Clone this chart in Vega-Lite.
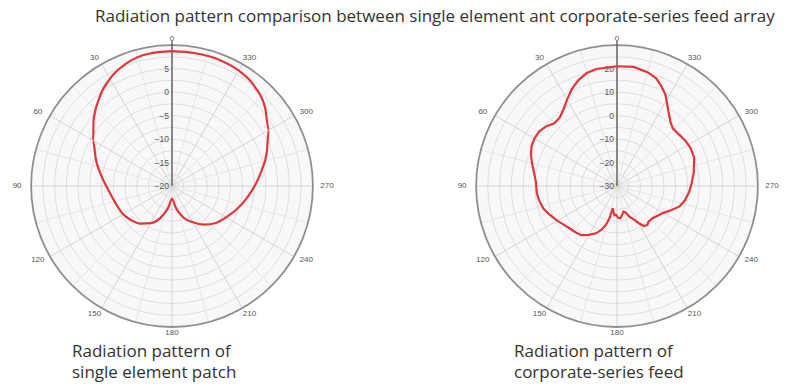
{
  "$schema": "https://vega.github.io/schema/vega-lite/v6.json",
  "padding": {"left": 3, "top": 7, "right": 0, "bottom": 10},
  "background": "white",
  "title": {"text": "Radiation pattern comparison between single element ant corporate-series feed array", "anchor": "start", "dx": 92, "offset": 5.5, "font": "Open Sans", "fontSize": 17, "fontWeight": "normal", "color": "#333333"},
  "config": {"view": {"stroke": null}},
  "bounds": "flush",
  "spacing": 107,
  "datasets": {
    "rings": [{"r": 0.0833}, {"r": 0.1667}, {"r": 0.25}, {"r": 0.3333}, {"r": 0.4167}, {"r": 0.5}, {"r": 0.5833}, {"r": 0.6667}, {"r": 0.75}, {"r": 0.8333}, {"r": 0.9167}],
    "spokes": [{"a": 0}, {"a": 15}, {"a": 30}, {"a": 45}, {"a": 60}, {"a": 75}, {"a": 90}, {"a": 105}, {"a": 120}, {"a": 135}, {"a": 150}, {"a": 165}, {"a": 180}, {"a": 195}, {"a": 210}, {"a": 225}, {"a": 240}, {"a": 255}, {"a": 270}, {"a": 285}, {"a": 300}, {"a": 315}, {"a": 330}, {"a": 345}],
    "angles": [{"a": 0, "t": "0"}, {"a": 30, "t": "30"}, {"a": 60, "t": "60"}, {"a": 90, "t": "90"}, {"a": 120, "t": "120"}, {"a": 150, "t": "150"}, {"a": 180, "t": "180"}, {"a": 210, "t": "210"}, {"a": 240, "t": "240"}, {"a": 270, "t": "270"}, {"a": 300, "t": "300"}, {"a": 330, "t": "330"}],
    "ticksL": [{"v": 5}, {"v": 0}, {"v": -5}, {"v": -10}, {"v": -15}, {"v": -20}],
    "ticksR": [{"v": 20}, {"v": 10}, {"v": 0}, {"v": -10}, {"v": -20}, {"v": -30}],
    "single": [
      {"a": 0, "g": 8.7}, {"a": 10, "g": 8.6}, {"a": 20, "g": 7.9}, {"a": 30, "g": 6.4}, {"a": 40, "g": 4.2}, {"a": 50, "g": 1.8}, {"a": 60, "g": -0.6}, {"a": 70, "g": -2.7}, {"a": 80, "g": -4.5}, {"a": 90, "g": -6.0}, {"a": 100, "g": -7.0}, {"a": 110, "g": -7.6}, {"a": 120, "g": -8.0}, {"a": 130, "g": -8.7}, {"a": 140, "g": -9.6}, {"a": 150, "g": -10.9}, {"a": 160, "g": -12.8}, {"a": 170, "g": -15.3}, {"a": 180, "g": -17.3}, {"a": 190, "g": -15.3}, {"a": 200, "g": -12.9}, {"a": 210, "g": -11.1}, {"a": 220, "g": -9.3}, {"a": 230, "g": -7.8}, {"a": 240, "g": -6.7}, {"a": 250, "g": -5.4}, {"a": 260, "g": -4.0}, {"a": 270, "g": -2.4}, {"a": 280, "g": -0.6}, {"a": 290, "g": 1.5}, {"a": 300, "g": 3.8}, {"a": 310, "g": 5.9}, {"a": 320, "g": 7.5}, {"a": 330, "g": 8.4}, {"a": 340, "g": 8.7}, {"a": 350, "g": 8.7}, {"a": 360, "g": 8.7}
    ],
    "array": [
      {"a": 0, "g": 21.0}, {"a": 10, "g": 20.6}, {"a": 15, "g": 19.8}, {"a": 20, "g": 18.0}, {"a": 25, "g": 15.6}, {"a": 30, "g": 12.5}, {"a": 35, "g": 9.8}, {"a": 40, "g": 8.0}, {"a": 45, "g": 7.8}, {"a": 50, "g": 9.5}, {"a": 55, "g": 10.5}, {"a": 60, "g": 10.6}, {"a": 65, "g": 10.2}, {"a": 70, "g": 9.0}, {"a": 75, "g": 7.5}, {"a": 80, "g": 6.0}, {"a": 87, "g": 4.6}, {"a": 95, "g": 4.3}, {"a": 100, "g": 3.8}, {"a": 107, "g": 2.8}, {"a": 113, "g": 1.2}, {"a": 120, "g": -0.6}, {"a": 125, "g": -1.8}, {"a": 132, "g": -3.0}, {"a": 138, "g": -3.6}, {"a": 144, "g": -4.2}, {"a": 150, "g": -6.0}, {"a": 156, "g": -8.0}, {"a": 160, "g": -10.0}, {"a": 164, "g": -12.8}, {"a": 167, "g": -16.0}, {"a": 169, "g": -20.4}, {"a": 172, "g": -19.0}, {"a": 175, "g": -17.5}, {"a": 178, "g": -17.8}, {"a": 182, "g": -16.5}, {"a": 186, "g": -16.2}, {"a": 190, "g": -17.5}, {"a": 194, "g": -18.8}, {"a": 198, "g": -18.2}, {"a": 202, "g": -16.0}, {"a": 206, "g": -14.5}, {"a": 210, "g": -12.0}, {"a": 214, "g": -9.5}, {"a": 218, "g": -9.0}, {"a": 222, "g": -9.8}, {"a": 228, "g": -9.6}, {"a": 234, "g": -8.6}, {"a": 240, "g": -7.2}, {"a": 246, "g": -4.8}, {"a": 252, "g": -2.0}, {"a": 258, "g": -0.5}, {"a": 265, "g": 0.8}, {"a": 272, "g": 1.8}, {"a": 280, "g": 3.2}, {"a": 290, "g": 5.0}, {"a": 297, "g": 5.3}, {"a": 303, "g": 5.0}, {"a": 310, "g": 4.3}, {"a": 316, "g": 4.2}, {"a": 320, "g": 5.5}, {"a": 324, "g": 7.7}, {"a": 328, "g": 10.5}, {"a": 332, "g": 14.0}, {"a": 336, "g": 16.5}, {"a": 340, "g": 18.8}, {"a": 345, "g": 20.2}, {"a": 352, "g": 21.2}, {"a": 360, "g": 21.0}
    ]
  },
  "hconcat": [
    {
      "width": 338,
      "height": 313,
      "title": {"text": ["Radiation pattern of", "single element patch"], "orient": "bottom", "anchor": "start", "dx": 69, "offset": 0, "font": "Open Sans", "fontSize": 17, "fontWeight": "normal", "color": "#333333", "lineHeight": 21},
      "layer": [
        {
          "data": {"values": [{}]},
          "mark": {"type": "point", "shape": "circle", "filled": true, "fill": "#f8f8f8", "size": 79400, "opacity": 1},
          "encoding": {
            "x": {"datum": 0, "type": "quantitative", "scale": {"domain": [-1.2, 1.2], "nice": false, "zero": false}, "axis": null},
            "y": {"datum": 0, "type": "quantitative", "scale": {"domain": [-1.12, 1.1], "nice": false, "zero": false}, "axis": null}
          }
        },
        {
          "data": {"name": "rings"},
          "mark": {"type": "point", "shape": "circle", "filled": false, "stroke": "#dedede", "strokeWidth": 1, "opacity": 1},
          "encoding": {
            "x": {"datum": 0, "type": "quantitative", "axis": null},
            "y": {"datum": 0, "type": "quantitative", "axis": null},
            "size": {"field": "r", "type": "quantitative", "scale": {"type": "pow", "exponent": 2, "domain": [0, 1], "range": [0, 79400]}, "legend": null}
          }
        },
        {
          "data": {"name": "spokes"},
          "transform": [
            {"filter": "datum.a % 30 != 0"},
            {"calculate": "-sin(datum.a * PI / 180)", "as": "sx"},
            {"calculate": "cos(datum.a * PI / 180)", "as": "sy"}
          ],
          "mark": {"type": "rule", "stroke": "#e6e6e6", "strokeWidth": 1},
          "encoding": {
            "x": {"field": "sx", "type": "quantitative", "axis": null},
            "y": {"field": "sy", "type": "quantitative", "axis": null},
            "x2": {"datum": 0},
            "y2": {"datum": 0}
          }
        },
        {
          "data": {"name": "spokes"},
          "transform": [
            {"filter": "datum.a % 30 == 0"},
            {"calculate": "-sin(datum.a * PI / 180)", "as": "sx"},
            {"calculate": "cos(datum.a * PI / 180)", "as": "sy"}
          ],
          "mark": {"type": "rule", "stroke": "#d4d4d4", "strokeWidth": 1},
          "encoding": {
            "x": {"field": "sx", "type": "quantitative", "axis": null},
            "y": {"field": "sy", "type": "quantitative", "axis": null},
            "x2": {"datum": 0},
            "y2": {"datum": 0}
          }
        },
        {
          "data": {"values": [{}]},
          "mark": {"type": "point", "shape": "circle", "filled": false, "stroke": "#8f8f8f", "strokeWidth": 1.8, "size": 79400, "opacity": 1},
          "encoding": {
            "x": {"datum": 0, "type": "quantitative", "axis": null},
            "y": {"datum": 0, "type": "quantitative", "axis": null}
          }
        },
        {
          "data": {"name": "spokes"},
          "transform": [{"filter": "datum.a == 0"}, {"calculate": "1.03", "as": "top"}],
          "mark": {"type": "rule", "stroke": "#555555", "strokeWidth": 1.3},
          "encoding": {
            "x": {"datum": 0, "type": "quantitative", "axis": null},
            "y": {"field": "top", "type": "quantitative", "axis": null},
            "y2": {"datum": 0}
          }
        },
        {
          "data": {"name": "ticksL"},
          "transform": [{"calculate": "(datum.v + 20) / 30", "as": "rn"}],
          "mark": {"type": "text", "align": "right", "baseline": "middle", "dx": -3, "font": "Liberation Sans", "fontSize": 8.5, "color": "#555555"},
          "encoding": {
            "x": {"datum": 0, "type": "quantitative", "axis": null},
            "y": {"field": "rn", "type": "quantitative", "axis": null},
            "text": {"field": "v", "type": "quantitative"}
          }
        },
        {
          "data": {"name": "angles"},
          "transform": [
            {"calculate": "-1.1 * sin(datum.a * PI / 180)", "as": "lx"},
            {"calculate": "1.045 * cos(datum.a * PI / 180)", "as": "ly"}
          ],
          "mark": {"type": "text", "align": "center", "baseline": "middle", "font": "Liberation Sans", "fontSize": 8, "color": "#555555"},
          "encoding": {
            "x": {"field": "lx", "type": "quantitative", "axis": null},
            "y": {"field": "ly", "type": "quantitative", "axis": null},
            "text": {"field": "t"}
          }
        },
        {
          "data": {"name": "single"},
          "transform": [
            {"calculate": "(datum.g + 20) / 30", "as": "rn"},
            {"calculate": "-datum.rn * sin(datum.a * PI / 180)", "as": "px"},
            {"calculate": "datum.rn * cos(datum.a * PI / 180)", "as": "py"}
          ],
          "mark": {"type": "line", "stroke": "#e0363c", "strokeWidth": 2.2, "interpolate": "monotone"},
          "encoding": {
            "x": {"field": "px", "type": "quantitative", "axis": null},
            "y": {"field": "py", "type": "quantitative", "axis": null},
            "order": {"field": "a", "type": "quantitative"}
          }
        }
      ]
    },
    {
      "width": 338,
      "height": 313,
      "title": {"text": ["Radiation pattern of", "corporate-series feed"], "orient": "bottom", "anchor": "start", "dx": 66, "offset": 0, "font": "Open Sans", "fontSize": 17, "fontWeight": "normal", "color": "#333333", "lineHeight": 21},
      "layer": [
        {
          "data": {"values": [{}]},
          "mark": {"type": "point", "shape": "circle", "filled": true, "fill": "#f8f8f8", "size": 79400, "opacity": 1},
          "encoding": {
            "x": {"datum": 0, "type": "quantitative", "scale": {"domain": [-1.2, 1.2], "nice": false, "zero": false}, "axis": null},
            "y": {"datum": 0, "type": "quantitative", "scale": {"domain": [-1.12, 1.1], "nice": false, "zero": false}, "axis": null}
          }
        },
        {
          "data": {"name": "rings"},
          "mark": {"type": "point", "shape": "circle", "filled": false, "stroke": "#dedede", "strokeWidth": 1, "opacity": 1},
          "encoding": {
            "x": {"datum": 0, "type": "quantitative", "axis": null},
            "y": {"datum": 0, "type": "quantitative", "axis": null},
            "size": {"field": "r", "type": "quantitative", "scale": {"type": "pow", "exponent": 2, "domain": [0, 1], "range": [0, 79400]}, "legend": null}
          }
        },
        {
          "data": {"name": "spokes"},
          "transform": [
            {"filter": "datum.a % 30 != 0"},
            {"calculate": "-sin(datum.a * PI / 180)", "as": "sx"},
            {"calculate": "cos(datum.a * PI / 180)", "as": "sy"}
          ],
          "mark": {"type": "rule", "stroke": "#e6e6e6", "strokeWidth": 1},
          "encoding": {
            "x": {"field": "sx", "type": "quantitative", "axis": null},
            "y": {"field": "sy", "type": "quantitative", "axis": null},
            "x2": {"datum": 0},
            "y2": {"datum": 0}
          }
        },
        {
          "data": {"name": "spokes"},
          "transform": [
            {"filter": "datum.a % 30 == 0"},
            {"calculate": "-sin(datum.a * PI / 180)", "as": "sx"},
            {"calculate": "cos(datum.a * PI / 180)", "as": "sy"}
          ],
          "mark": {"type": "rule", "stroke": "#d4d4d4", "strokeWidth": 1},
          "encoding": {
            "x": {"field": "sx", "type": "quantitative", "axis": null},
            "y": {"field": "sy", "type": "quantitative", "axis": null},
            "x2": {"datum": 0},
            "y2": {"datum": 0}
          }
        },
        {
          "data": {"values": [{}]},
          "mark": {"type": "point", "shape": "circle", "filled": false, "stroke": "#8f8f8f", "strokeWidth": 1.8, "size": 79400, "opacity": 1},
          "encoding": {
            "x": {"datum": 0, "type": "quantitative", "axis": null},
            "y": {"datum": 0, "type": "quantitative", "axis": null}
          }
        },
        {
          "data": {"name": "spokes"},
          "transform": [{"filter": "datum.a == 0"}, {"calculate": "1.03", "as": "top"}],
          "mark": {"type": "rule", "stroke": "#555555", "strokeWidth": 1.3},
          "encoding": {
            "x": {"datum": 0, "type": "quantitative", "axis": null},
            "y": {"field": "top", "type": "quantitative", "axis": null},
            "y2": {"datum": 0}
          }
        },
        {
          "data": {"name": "ticksR"},
          "transform": [{"calculate": "(datum.v + 30) / 60", "as": "rn"}],
          "mark": {"type": "text", "align": "right", "baseline": "middle", "dx": -3, "font": "Liberation Sans", "fontSize": 8.5, "color": "#555555"},
          "encoding": {
            "x": {"datum": 0, "type": "quantitative", "axis": null},
            "y": {"field": "rn", "type": "quantitative", "axis": null},
            "text": {"field": "v", "type": "quantitative"}
          }
        },
        {
          "data": {"name": "angles"},
          "transform": [
            {"calculate": "-1.1 * sin(datum.a * PI / 180)", "as": "lx"},
            {"calculate": "1.045 * cos(datum.a * PI / 180)", "as": "ly"}
          ],
          "mark": {"type": "text", "align": "center", "baseline": "middle", "font": "Liberation Sans", "fontSize": 8, "color": "#555555"},
          "encoding": {
            "x": {"field": "lx", "type": "quantitative", "axis": null},
            "y": {"field": "ly", "type": "quantitative", "axis": null},
            "text": {"field": "t"}
          }
        },
        {
          "data": {"name": "array"},
          "transform": [
            {"calculate": "(datum.g + 30) / 60", "as": "rn"},
            {"calculate": "-datum.rn * sin(datum.a * PI / 180)", "as": "px"},
            {"calculate": "datum.rn * cos(datum.a * PI / 180)", "as": "py"}
          ],
          "mark": {"type": "line", "stroke": "#e0363c", "strokeWidth": 2.2},
          "encoding": {
            "x": {"field": "px", "type": "quantitative", "axis": null},
            "y": {"field": "py", "type": "quantitative", "axis": null},
            "order": {"field": "a", "type": "quantitative"}
          }
        }
      ]
    }
  ]
}
